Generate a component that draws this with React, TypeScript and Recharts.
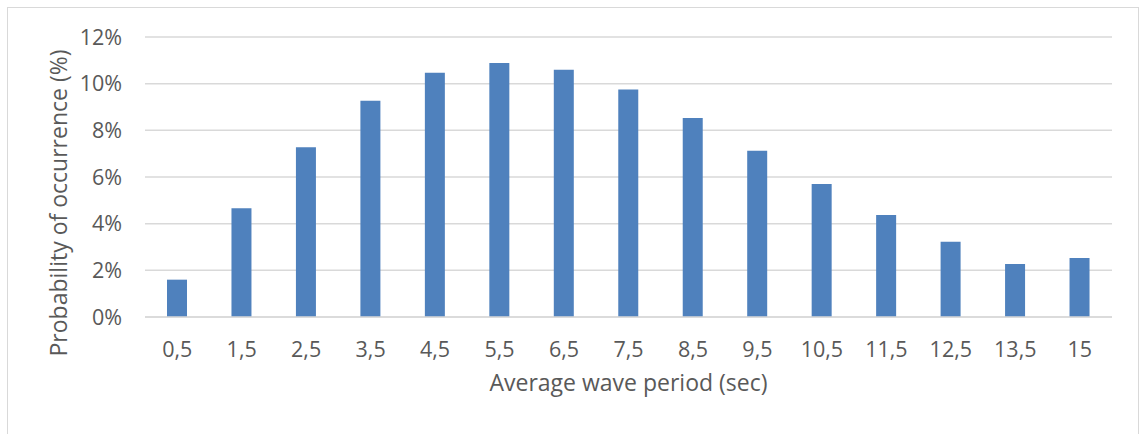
import { Bar, BarChart, CartesianGrid, XAxis, YAxis } from "recharts"

const periods = ["0,5", "1,5", "2,5", "3,5", "4,5", "5,5", "6,5", "7,5", "8,5", "9,5", "10,5", "11,5", "12,5", "13,5", "15"]
const probability = [1.6, 4.66, 7.27, 9.27, 10.47, 10.89, 10.6, 9.75, 8.53, 7.13, 5.7, 4.37, 3.23, 2.27, 2.53]
const yTicks = [0, 2, 4, 6, 8, 10, 12]

const data = periods.map((p, i) => ({ period: p, value: probability[i] }))

const font = "'Open Sans', sans-serif"
const textColor = "#595959"

const YTitle = ({ viewBox }: any) => {
  const cx = viewBox.x + 58
  const cy = viewBox.y + viewBox.height / 2 + 26
  return (
    <text
      x={cx}
      y={cy}
      transform={`rotate(-90, ${cx}, ${cy})`}
      textAnchor="middle"
      dominantBaseline="central"
      fill={textColor}
      fontSize={23}
      fontFamily={font}
    >
      Probability of occurrence (%)
    </text>
  )
}

export default function App() {
  return (
    <div style={{ position: "absolute", left: 0, top: 0, width: 1147, height: 434, background: "#fff", overflow: "hidden" }}>
      <div
        style={{
          position: "absolute",
          left: 7,
          top: 7,
          width: 1132,
          height: 440,
          border: "1px solid #d9d9d9",
          boxSizing: "border-box",
        }}
      />
      <div style={{ position: "absolute", left: 0, top: 0 }}>
        <BarChart
          width={1147}
          height={434}
          data={data}
          margin={{ top: 37, right: 35, left: 0, bottom: 0 }}
        >
          <CartesianGrid vertical={false} stroke="#d9d9d9" strokeWidth={1.5} />
          <XAxis
            dataKey="period"
            height={117}
            axisLine={{ stroke: "#d9d9d9", strokeWidth: 1.5 }}
            tickLine={false}
            tickSize={0}
            tickMargin={25}
            interval={0}
            tick={{ fill: textColor, fontSize: 21.5, fontFamily: font }}
            label={{
              value: "Average wave period (sec)",
              position: "insideBottom",
              offset: 43,
              fill: textColor,
              fontSize: 23,
              fontFamily: font,
            }}
          />
          <YAxis
            width={145}
            domain={[0, 12]}
            ticks={yTicks}
            axisLine={false}
            tickLine={false}
            tickSize={0}
            tickMargin={23}
            tickFormatter={(v) => `${v}%`}
            tick={{ fill: textColor, fontSize: 21.5, fontFamily: font }}
            label={<YTitle />}
          />
          <Bar dataKey="value" fill="#4f81bd" barSize={20} isAnimationActive={false} />
        </BarChart>
      </div>
    </div>
  )
}
